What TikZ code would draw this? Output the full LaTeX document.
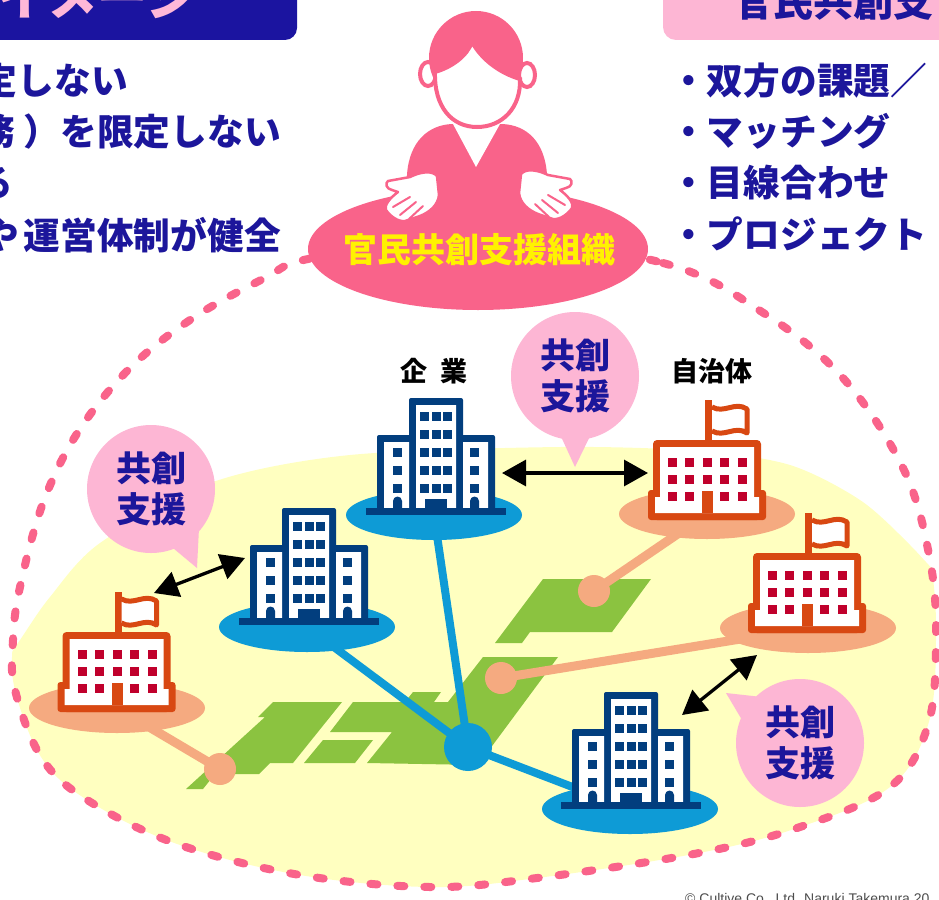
\documentclass[tikz,border=0pt]{standalone}
\usepackage{fontspec}
\usetikzlibrary{arrows.meta}

\newfontfamily\jp{Noto Sans CJK JP}
\newfontfamily\latin{Liberation Sans}

\definecolor{ink}{RGB}{28,22,155}
\definecolor{bandblue}{RGB}{27,20,160}
\definecolor{bandpink}{RGB}{253,182,212}
\definecolor{softpink}{RGB}{255,184,216}
\definecolor{rose}{RGB}{249,99,138}
\definecolor{ground}{RGB}{255,255,192}
\definecolor{land}{RGB}{139,195,64}
\definecolor{navy}{RGB}{2,62,126}
\definecolor{sky}{RGB}{14,155,214}
\definecolor{brick}{RGB}{216,72,18}
\definecolor{crimson}{RGB}{192,0,44}
\definecolor{salmon}{RGB}{245,170,128}

\newcommand{\rim}{plot[smooth cycle,tension=0.6] coordinates {
  (478,236) (663,263) (762,312) (843,378) (904,470) (930,560) (936,640)
  (928,725) (890,787) (800,827) (699,853) (537,878) (430,887) (300,875)
  (180,845) (92,803) (43,760) (15,690) (13,640) (20,587) (43,503) (78,432)
  (130,368) (193,318) (265,278) (313,258)}}

\tikzset{
  bodytext/.style={font=\jp\bfseries\fontsize{36.7}{40}\selectfont,text=ink,inner sep=0pt},
  sitename/.style={font=\jp\bfseries\fontsize{27}{30}\selectfont,inner sep=0pt},
  bubble/.style={circle,fill=bandpink,minimum size=128pt,inner sep=0pt,align=center,
    text=ink,font=\jp\bfseries\fontsize{35}{41}\selectfont},
  pipe/.style={sky,line width=8pt},
  tether/.style={salmon,line width=9pt},
  twoway/.style={>={Triangle[length=24pt,width=26pt]},<->,line width=3.3pt},
  office/.pic={
    \fill[navy,rounded corners=2pt] (-27,-117) rectangle (27,-5);
    \fill[navy,rounded corners=2pt] (-59,-80) rectangle (59,-5);
    \fill[white] (-20,-110) rectangle (20,-7) (-52,-73) rectangle (-27,-7) (27,-73) rectangle (52,-7);
    \foreach \y in {-103,-85,-67,-49,-31}
      \foreach \x in {-16,-4.5,7}
        \fill[navy] (\x,\y) rectangle ++(9,9);
    \foreach \y in {-67,-49,-31}
      \foreach \x in {-43,34}
        \fill[navy] (\x,\y) rectangle ++(9,9);
    \fill[navy] (-11,-16) rectangle (11,-7);
    \foreach \x in {-43,34}
      \fill[navy] (\x,-7) -- ++(0,-7) arc[start angle=180,end angle=360,radius=4.5] -- ++(0,7) -- cycle;
    \fill[navy] (-70,-7) rectangle (70,0);
  },
  townhall/.pic={
    \fill[brick] (-2,-120) rectangle (5,-78);
    \draw[brick,fill=white,line width=5pt,line join=round]
      (5,-113) .. controls (17,-106) and (28,-119) .. (40,-111) -- (40,-87)
      .. controls (28,-95) and (17,-82) .. (5,-89);
    \fill[brick,rounded corners=4pt] (-54,-80) rectangle (54,0);
    \fill[brick,rounded corners=3pt] (-59,-30) rectangle (59,0);
    \fill[white] (-47,-73) rectangle (47,-7) (-52,-23) rectangle (52,-7);
    \fill[brick] (-5,-29) rectangle (6,-7);
    \foreach \y in {-62,-45}
      \foreach \x in {-39,-22,-4,13,31}
        \fill[crimson] (\x,\y) rectangle ++(9,9);
    \foreach \x in {-39,-22,13,31}
      \fill[crimson] (\x,-28) rectangle ++(9,9);
  },
  palm/.pic={
    \filldraw[fill=white,draw=rose,line width=2.5pt,line join=round]
      (-24,-14) -- (-2,-18) .. controls (8,-23) and (20,-25) .. (25,-19)
      -- (27,0) .. controls (26,10) and (18,17) .. (8,21)
      -- (-7,26) .. controls (-14,27) and (-22,21) .. (-26,15)
      .. controls (-28,10) and (-22,3) .. (-14,-3)
      -- (-20,-5) .. controls (-26,-6) and (-27,-12) .. (-24,-14) -- cycle;
    \draw[rose,line width=2pt,line cap=round] (-2,2) -- (-19,12) (4,7) -- (-12,20) (11,11) -- (-3,24);
  }
}

\begin{document}
\begin{tikzpicture}[x=1pt,y=-1pt]
\useasboundingbox (0,0) rectangle (939,899);

\begin{scope}
  \clip \rim;
  \fill[ground] plot[smooth] coordinates {(-20,700) (20,640) (50,597) (100,543) (213,482)
    (350,455) (560,447) (700,451) (790,465) (860,500) (910,545) (960,600)}
    -- (960,920) -- (-20,920) -- cycle;
\end{scope}

\fill[land] (543,579) -- (651,579) -- (612,632) -- (530,632) -- (522,643) -- (495,643) -- cycle;
\fill[land] (353,702) -- (405,702) -- (413,692) -- (441,692) -- (434,702) -- (448,702) -- (483,657)
  -- (558,657) -- (478,765) -- (367,763) -- (392,732) -- (330,732) -- cycle;
\fill[land] (323,740) -- (373,740) -- (355,763) -- (304,763) -- cycle;
\fill[land] (273,702) -- (342,702) -- (293,763) -- (270,763) -- (259,774) -- (215,774) -- (203,789)
  -- (186,789) -- (265,717) -- (258,717) -- cycle;

\coordinate (hub) at (468,747);
\coordinate (firmA) at (434,515);
\coordinate (firmB) at (307,627);
\coordinate (firmC) at (630,809);
\coordinate (cityA) at (707,514);
\coordinate (cityB) at (117,708);
\coordinate (cityC) at (808,628);
\coordinate (dotA) at (594,591);
\coordinate (dotB) at (220,769);
\coordinate (dotC) at (501,678);

\draw[pipe] (hub) -- (firmA);
\draw[pipe] (hub) -- (firmB);
\draw[pipe] (hub) -- (firmC);
\draw[tether] (dotA) -- (cityA);
\draw[tether] (dotB) -- (cityB);
\draw[tether] (dotC) -- (cityC);
\foreach \d in {dotA,dotB,dotC}
  \fill[salmon] (\d) circle [radius=16];
\fill[sky] (hub) circle [radius=24];

\foreach \f in {firmA,firmB,firmC}
  \fill[sky] (\f) ellipse [x radius=88, y radius=25];
\foreach \c in {cityA,cityB,cityC}
  \fill[salmon] (\c) ellipse [x radius=88, y radius=25];

\pic at (436,515) {office};
\pic at (309,625) {office};
\pic at (631,809) {office};
\pic at (707,520) {townhall};
\pic at (116.5,712) {townhall};
\pic at (807,633) {townhall};

\node[sitename] (firmname) at (434,371) {企\hspace{0.45em}業};
\node[sitename] (cityname) at (712,371) {自治体};

\coordinate (pairAw) at (502,473); \coordinate (pairAe) at (648,473);
\coordinate (pairBw) at (154,593); \coordinate (pairBe) at (245,558);
\coordinate (pairCw) at (682,715); \coordinate (pairCe) at (757,655);
\draw[twoway] (pairAw) -- (pairAe);
\draw[twoway] (pairBw) -- (pairBe);
\draw[twoway] (pairCw) -- (pairCe);

\fill[bandpink] (558,430) -- (575,467) -- (594,428) -- cycle;
\node[bubble] (talkA) at (575,376) {共創\\支援};
\fill[bandpink] (173,548) -- (197,568) -- (199,528) -- cycle;
\node[bubble] (talkB) at (151,489) {共創\\支援};
\fill[bandpink] (726,693) -- (762,697) -- (745,725) -- cycle;
\node[bubble] (talkC) at (800,743) {共創\\支援};

\draw[rose,line width=8pt,line cap=round,dash pattern=on 7pt off 20pt] \rim;

\fill[bandblue,rounded corners=12pt] (-20,-20) rectangle (297,40);
\node[anchor=base west,inner sep=0pt,text=softpink,font=\jp\bfseries\fontsize{50}{50}\selectfont]
  (bandL) at (-3,16) {イメージ};
\fill[bandpink,rounded corners=13pt] (663,-20) rectangle (960,40);
\node[anchor=base west,inner sep=0pt,text=ink,font=\jp\bfseries\fontsize{40}{40}\selectfont]
  (bandR) at (733,17) {官民共創支};

\node[bodytext,anchor=base east] (cond1) at (128,94) {定しない};
\node[bodytext,anchor=base east] (cond2) at (281,145) {務\hspace{9pt}）を限定しない};
\node[bodytext,anchor=base east] (cond3) at (13,196) {る};
\node[bodytext,anchor=base east] (cond4) at (281,249) {や\hspace{5pt}運営体制が健全};
\node[bodytext,anchor=base west] (role1) at (670,94) {・双方の課題／};
\node[bodytext,anchor=base west] (role2) at (670,145) {・マッチング};
\node[bodytext,anchor=base west] (role3) at (670,196) {・目線合わせ};
\node[bodytext,anchor=base west] (role4) at (670,248) {・プロジェクト};

\fill[rose] (404,235) -- (407,175) .. controls (409,142) and (428,125) .. (452,124) -- (502,124)
  .. controls (527,125) and (545,142) .. (547,175) -- (551,235) -- cycle;
\fill[white] (453,124) -- (500,124) -- (476,167) -- cycle;
\fill[rose] (478,249) ellipse [x radius=170, y radius=61];
\filldraw[fill=white,draw=rose,line width=4pt] (428,74) ellipse [x radius=8, y radius=12];
\filldraw[fill=white,draw=rose,line width=4pt] (527,75) ellipse [x radius=8, y radius=12];
\fill[rose] (476,58) circle [radius=47];
\filldraw[fill=white,draw=rose,line width=4pt]
  (435,72) .. controls (452,67) and (467,56) .. (472,42) .. controls (482,60) and (500,73) .. (520,79)
  .. controls (521,108) and (502,127) .. (477,127) .. controls (452,127) and (434,107) .. (435,72) -- cycle;
\pic at (412,195) {palm};
\pic[xscale=-1] at (546,193) {palm};
\node[inner sep=0pt,text=yellow,font=\jp\bfseries\fontsize{34}{34}\selectfont]
  (orgname) at (479,250) {官民共創支援組織};

\node[anchor=base west,inner sep=0pt,text=black!70,font=\latin\fontsize{14}{14}\selectfont]
  (credit) at (685,903) {© Cultive Co., Ltd. Naruki Takemura 20};
\end{tikzpicture}
\end{document}
